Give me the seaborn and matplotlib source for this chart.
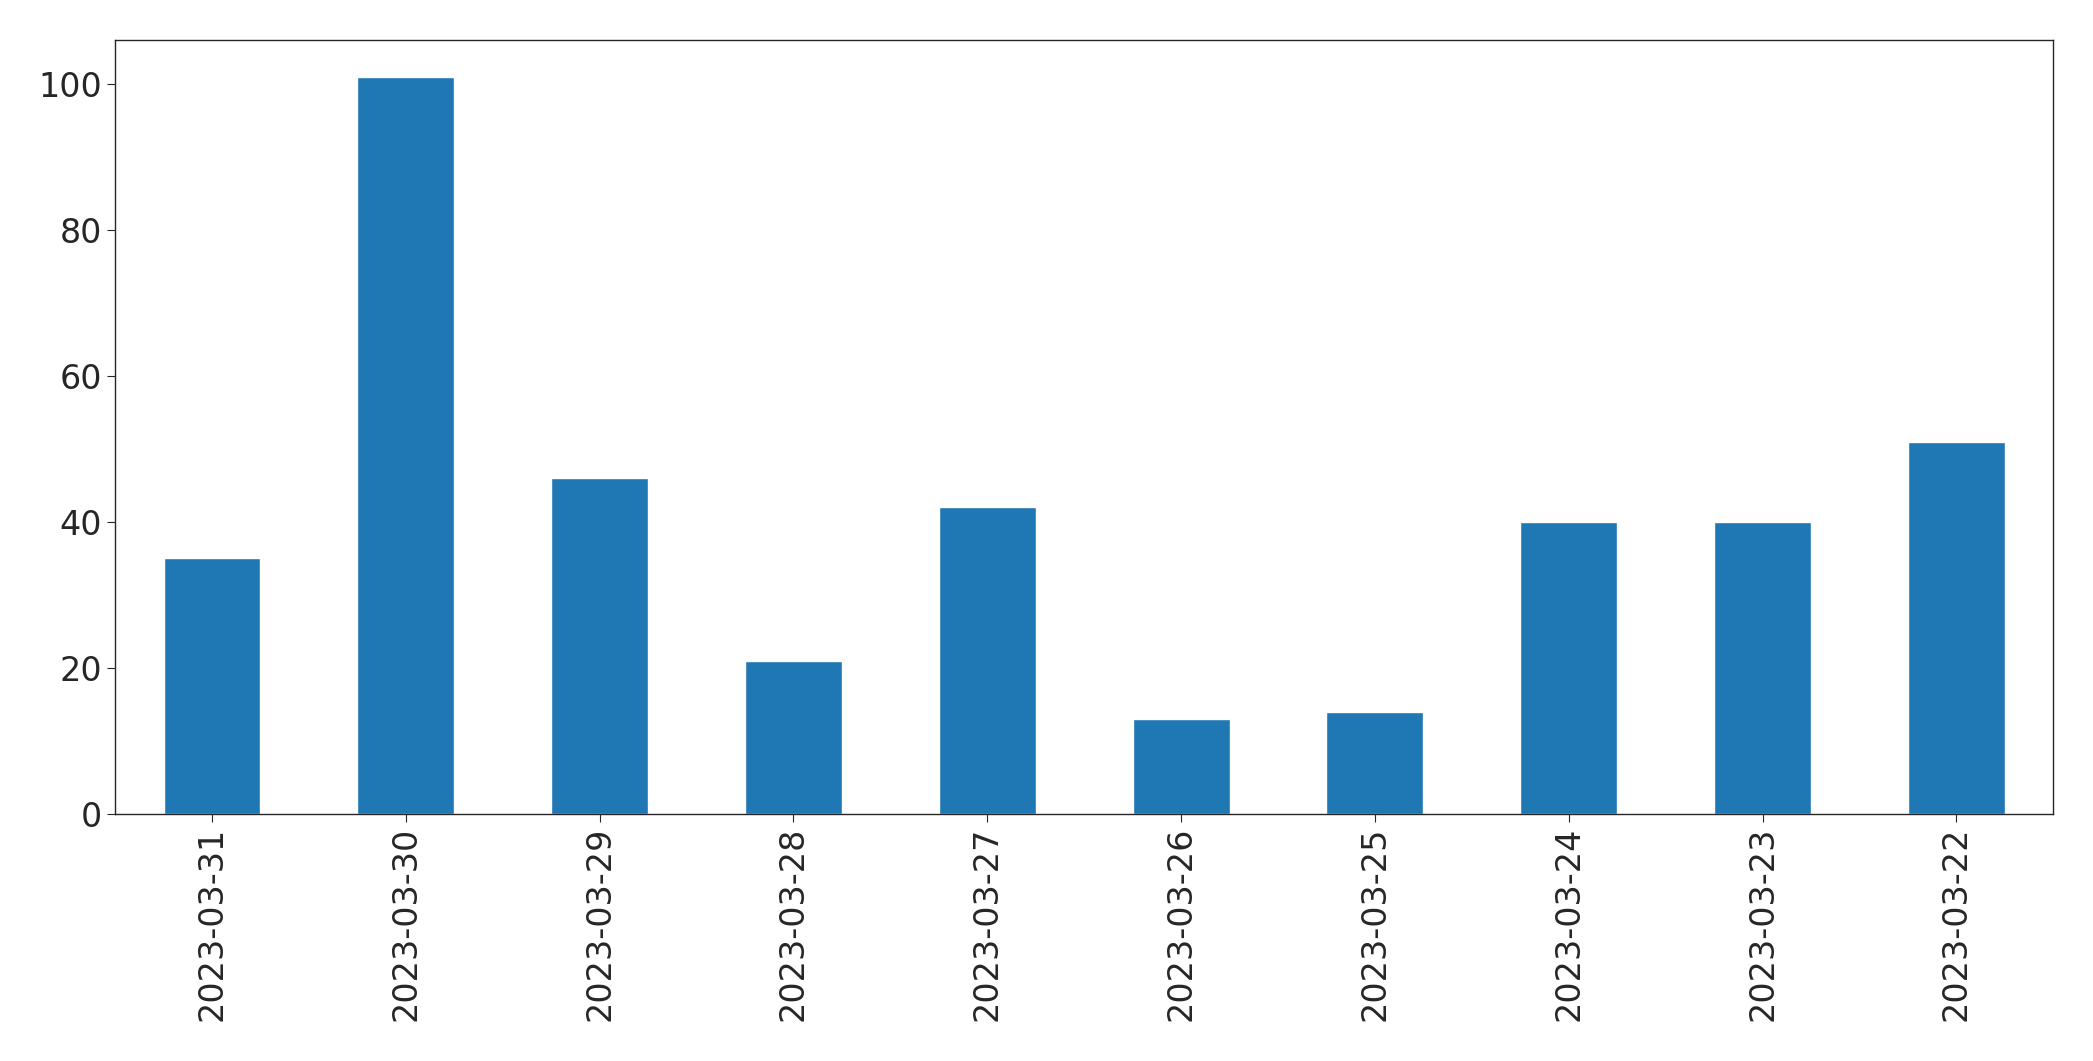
import matplotlib
matplotlib.use("Agg")
import matplotlib.pyplot as plt
import seaborn as sns
import pandas as pd

dates = ["2023-03-31","2023-03-30","2023-03-29","2023-03-28","2023-03-27",
         "2023-03-26","2023-03-25","2023-03-24","2023-03-23","2023-03-22"]
counts = [35, 101, 46, 21, 42, 13, 14, 40, 40, 51]

sns.set_style("ticks")
plt.rcParams['font.family'] = ['DejaVu Sans']
df = pd.DataFrame({"date": dates, "count": counts})
fig = plt.figure(figsize=(20.93, 10.61), dpi=100)
ax = fig.add_axes([0.055, 0.233, 0.926, 0.729])
sns.barplot(data=df, x="date", y="count", color="#1f77b4", saturation=1, width=0.5, ax=ax)
ax.set_xlabel("")
ax.set_ylabel("")
ax.set_ylim(0, 106)
ax.set_xlim(-0.5, len(dates) - 0.5)
ax.tick_params(axis='both', labelsize=24, length=6)
plt.setp(ax.get_xticklabels(), rotation=90)
for s in ax.spines.values():
    s.set_visible(True)
    s.set_linewidth(1)
fig.savefig("out.png", dpi=100)
